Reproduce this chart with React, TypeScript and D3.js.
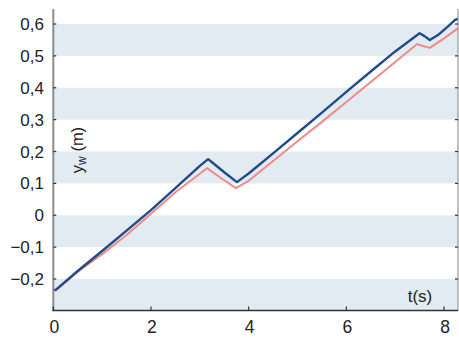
import React from "react";
import * as d3 from "d3";

const blueT = [0, 0.05, 0.5, 1.0, 1.5, 2.0, 2.5, 3.0, 3.17, 3.3, 3.5, 3.76, 4.0, 4.5, 5.0, 5.5, 6.0, 6.5, 7.0, 7.5, 7.6, 7.71, 7.9, 8.1, 8.22, 8.29];
const blueY = [-0.234, -0.234, -0.175, -0.112, -0.048, 0.016, 0.085, 0.155, 0.176, 0.16, 0.135, 0.104, 0.131, 0.194, 0.258, 0.322, 0.387, 0.451, 0.514, 0.571, 0.562, 0.55, 0.568, 0.595, 0.612, 0.617];
const pinkT = [0, 0.05, 0.5, 1.0, 1.5, 2.0, 2.5, 3.0, 3.15, 3.4, 3.74, 4.0, 4.5, 5.0, 5.5, 6.0, 6.5, 7.0, 7.45, 7.55, 7.71, 8.0, 8.29];
const pinkY = [-0.236, -0.236, -0.177, -0.122, -0.062, 0.005, 0.072, 0.13, 0.148, 0.12, 0.085, 0.108, 0.17, 0.232, 0.293, 0.355, 0.418, 0.481, 0.537, 0.532, 0.525, 0.555, 0.587];

const xTicks = [0, 2, 4, 6, 8];
const yTicks = [-0.2, -0.1, 0, 0.1, 0.2, 0.3, 0.4, 0.5, 0.6];
const bands: [number, number][] = [[-0.3, -0.2], [-0.1, 0], [0.1, 0.2], [0.3, 0.4], [0.5, 0.6]];

const fmtY = (v: number) => {
  if (Math.abs(v) < 1e-9) return "0";
  const s = Math.abs(v).toFixed(1).replace(".", ",");
  return v < 0 ? "\u2212" + s : s;
};

export default function App() {
  const W = 459, H = 338;
  const left = 53.3, right = 458, top = 9, bottom = 310.5;
  const x = d3.scaleLinear().domain([0, 8]).range([left, left + 8 * 48.84]);
  const y = d3.scaleLinear().domain([-0.2, 0.6]).range([279, 24]);
  const line = d3.line<[number, number]>().x(d => x(d[0])).y(d => y(d[1]));
  const blue = blueT.map((t, i) => [t, blueY[i]] as [number, number]);
  const pink = pinkT.map((t, i) => [t, pinkY[i]] as [number, number]);
  const font = "'Liberation Sans', Arial, Helvetica, sans-serif";
  return (
    <svg width={W} height={H} style={{ position: "absolute", left: 0, top: 0 }}>
      <rect x={0} y={0} width={W} height={H} fill="#fff" />
      {bands.map((b, i) => (
        <rect key={i} x={left} width={right - left}
          y={Math.max(top, y(b[1]))}
          height={Math.min(bottom, y(b[0])) - Math.max(top, y(b[1]))}
          fill="#e3ebf2" />
      ))}
      <path d={line(pink) || ""} fill="none" stroke="#f08a8a" strokeWidth={2} strokeLinejoin="round" />
      <path d={line(blue) || ""} fill="none" stroke="#1f4c87" strokeWidth={2.4} strokeLinejoin="round" />
      {/* axes */}
      <line x1={left} x2={left} y1={top} y2={bottom} stroke="#8c8c8c" strokeWidth={2} />
      <line x1={right} x2={right} y1={top} y2={bottom} stroke="#9a9a9a" strokeWidth={1.2} />
      <line x1={left - 1} x2={right} y1={bottom} y2={bottom} stroke="#333" strokeWidth={1.6} />
      {yTicks.map(v => (
        <g key={v}>
          <line x1={left} x2={left + 3} y1={y(v)} y2={y(v)} stroke="#333" strokeWidth={1.2} />
          <line x1={right - 3} x2={right} y1={y(v)} y2={y(v)} stroke="#333" strokeWidth={1.2} />
          <text x={44} y={y(v)} dy="0.36em" textAnchor="end" fontFamily={font} fontSize={17} fill="#222">{fmtY(v)}</text>
        </g>
      ))}
      {xTicks.map(v => (
        <g key={v}>
          <line x1={x(v)} x2={x(v)} y1={bottom} y2={bottom - 4} stroke="#333" strokeWidth={1.2} />
          <text x={x(v) + 1} y={333} textAnchor="middle" fontFamily={font} fontSize={17.5} fill="#222">{v}</text>
        </g>
      ))}
      <text x={420} y={301.5} textAnchor="middle" fontFamily={font} fontSize={17} fill="#222">t(s)</text>
      <text transform="translate(83,150) rotate(-90)" textAnchor="middle" fontFamily={font} fontSize={16.5} fill="#222">
        y<tspan fontSize={12} dy={3}>w</tspan><tspan dy={-3}> (m)</tspan>
      </text>
    </svg>
  );
}
